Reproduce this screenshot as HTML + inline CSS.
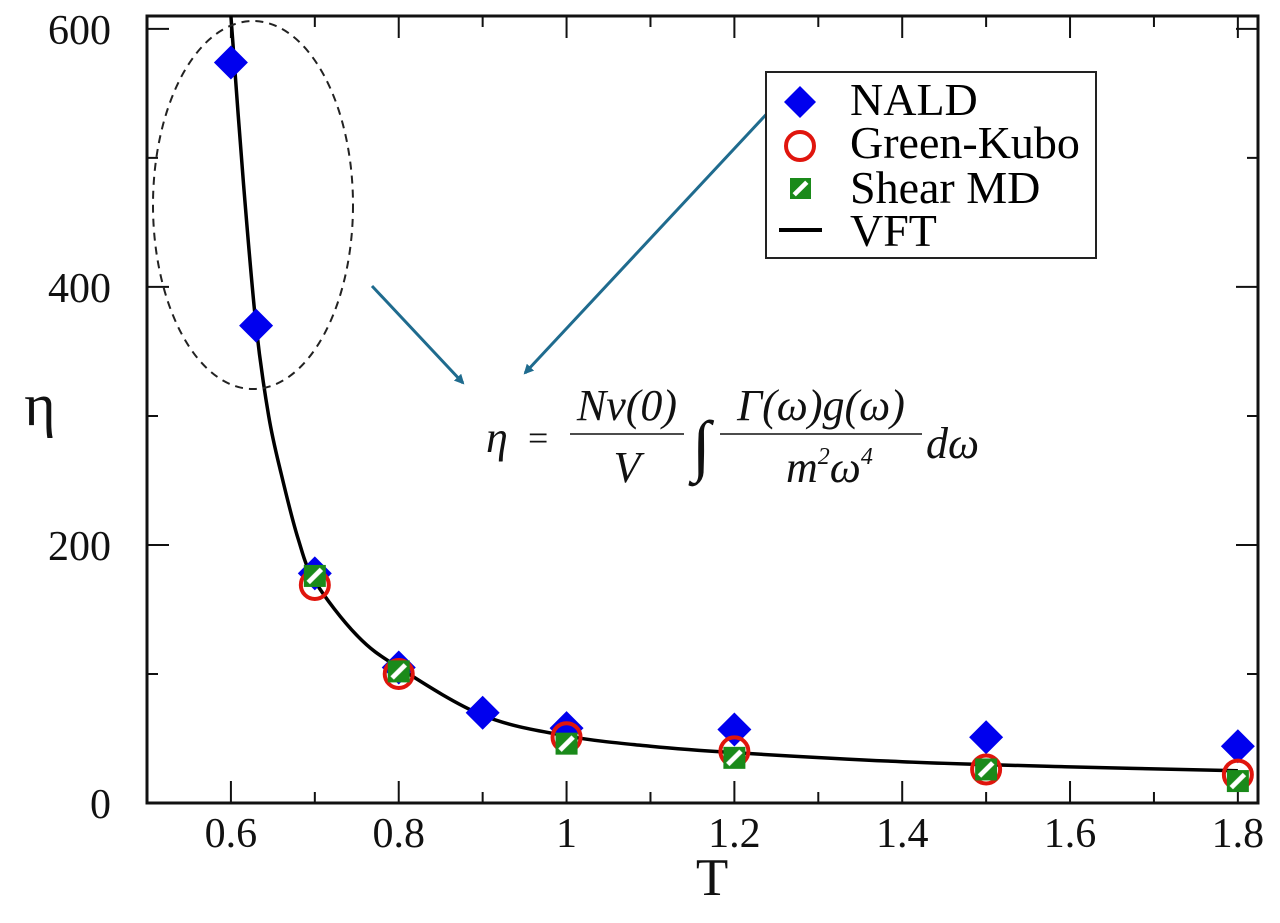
<!DOCTYPE html>
<html><head><meta charset="utf-8"><style>
html,body{margin:0;padding:0;background:#fff;}
svg{display:block;font-family:"Liberation Serif",serif;}
</style></head><body>
<svg id="chart" width="1280" height="923" viewBox="0 0 1280 923">
<defs>
<marker id="ah" markerWidth="10" markerHeight="10" refX="8" refY="5" orient="auto" markerUnits="userSpaceOnUse"><path d="M0,0 L10,5 L0,10 z" fill="#1f6b8e"/></marker>
<pattern id="hatch" width="1" height="1" patternUnits="objectBoundingBox" patternContentUnits="objectBoundingBox"><rect width="1" height="1" fill="#1a8a1a"/><path d="M0.2,0.8 L0.8,0.2" stroke="#fff" stroke-width="0.22"/></pattern>
<clipPath id="pc"><rect x="147" y="16" width="1111" height="787"/></clipPath>
</defs>
<g id="axes"></g>
<g id="marks"></g>
<ellipse cx="253" cy="205" rx="100" ry="184" fill="none" stroke="#222" stroke-width="2" stroke-dasharray="8,6"/>
<line x1="372" y1="286" x2="463" y2="383" stroke="#1f6b8e" stroke-width="3" marker-end="url(#ah)"/>
<line x1="775" y1="105" x2="525" y2="373" stroke="#1f6b8e" stroke-width="3" marker-end="url(#ah)"/>
<g font-style="italic" font-size="44" fill="#111">
<text x="486" y="452">η</text>
<text x="528" y="450" font-style="normal" font-size="36">=</text>
<text x="627" y="420" text-anchor="middle">Nν(0)</text>
<line x1="570" y1="434" x2="684" y2="434" stroke="#111" stroke-width="1.5"/>
<text x="627" y="482" text-anchor="middle">V</text>
<text x="692" y="468" font-size="68" font-style="normal">∫</text>
<text x="821" y="420" text-anchor="middle">Γ(ω)g(ω)</text>
<line x1="720" y1="434" x2="922" y2="434" stroke="#111" stroke-width="1.5"/>
<text x="786" y="482">m<tspan font-size="24" dy="-18">2</tspan><tspan dy="18">ω</tspan><tspan font-size="24" dy="-18">4</tspan></text>
<text x="926" y="458">dω</text>
</g>
<g>
<rect x="766" y="72" width="330" height="186" fill="#fff" stroke="#222" stroke-width="2"/>
<g><path d="M800,86 L816,102 L800,118 L784,102 z" fill="#0000ee"/><text x="850" y="115" font-size="46">NALD</text></g>
<g><circle cx="800" cy="146" r="14" fill="none" stroke="#e0150d" stroke-width="4"/><text x="850" y="158" font-size="46">Green-Kubo</text></g>
<g><rect x="790" y="178" width="21" height="21" fill="url(#hatch)"/><text x="850" y="203" font-size="46">Shear MD</text></g>
<g><line x1="779" y1="230" x2="822" y2="230" stroke="#000" stroke-width="4"/><text x="850" y="246" font-size="46">VFT</text></g>
</g>
</svg>
<script>
const naldT=[0.6,0.63,0.7,0.8,0.9,1.0,1.2,1.5,1.8];
const naldEta=[574,370,178,105,70,58,57,51,44];
const gkT=[0.7,0.8,1.0,1.2,1.5,1.8];
const gkEta=[169,100,51,40,26,22];
const shearT=[0.7,0.8,1.0,1.2,1.5,1.8];
const shearEta=[176,102,46,35,26,17];
const vftT=[0.6,0.615,0.63,0.645,0.66,0.68,0.7,0.75,0.8,0.9,1.0,1.1,1.2,1.4,1.6,1.8];
const vftEta=[610,480,370,300,255,205,172,130,105,68,52,44,39,32,28,25];
const xTicks=[0.6,0.8,1,1.2,1.4,1.6,1.8];
const xTickLabels=["0.6","0.8","1","1.2","1.4","1.6","1.8"];
const yTicks=[0,200,400,600];
const yTickLabels=["0","200","400","600"];

const NS="http://www.w3.org/2000/svg";
const L=147,R=1258,T=16,B=803;
const xMin=0.5,xMax=1.824,yMin=0,yMax=610;
const X=v=>L+(v-xMin)/(xMax-xMin)*(R-L);
const Y=v=>B-(v-yMin)/(yMax-yMin)*(B-T);
function mk(tag,attrs,parent){const e=document.createElementNS(NS,tag);for(const k in attrs)e.setAttribute(k,attrs[k]);parent.appendChild(e);return e;}
const axes=document.getElementById('axes'),marks=document.getElementById('marks');

let fr=mk('rect',{x:L,y:T,width:R-L,height:B-T,fill:'none',stroke:'#111','stroke-width':3},axes);


for(let i=0;i<xTicks.length;i++){
 const x=X(xTicks[i]);
 let t=mk('path',{d:`M${x},${B}v-22M${x},${T}v22`,stroke:'#111','stroke-width':2},axes);
 
 
 let m=X(xTicks[i]-0.1);
 if(m>L){let mt=mk('path',{d:`M${m},${B}v-11M${m},${T}v11`,stroke:'#111','stroke-width':2},axes);
 
 }
 let lb=mk('text',{x:x,y:847,'text-anchor':'middle','font-size':42,fill:'#111'},axes);
 lb.textContent=xTickLabels[i];
 
 
}
for(let i=0;i<yTicks.length;i++){
 const y=Y(yTicks[i]);
 let t=mk('path',{d:`M${L},${y}h22M${R},${y}h-22`,stroke:'#111','stroke-width':2},axes);
 
 
 if(yTicks[i]+100<yMax){let m=Y(yTicks[i]+100);
 let mt=mk('path',{d:`M${L},${m}h11M${R},${m}h-11`,stroke:'#111','stroke-width':2},axes);
 
 }
 let lb=mk('text',{x:111,y:y+15,'text-anchor':'end','font-size':42,fill:'#111'},axes);
 lb.textContent=yTickLabels[i];
 
 
}
let xt=mk('text',{x:712,y:895,'text-anchor':'middle','font-size':53,fill:'#111'},axes);
xt.textContent='T';


let yt=mk('text',{x:40,y:425,'text-anchor':'middle','font-size':60,fill:'#111'},axes);
yt.textContent='η';



const pts=vftT.map((t,i)=>[X(t),Y(vftEta[i])]);
let d=`M${pts[0][0]},${pts[0][1]}`;
for(let i=0;i<pts.length-1;i++){
 const p0=pts[Math.max(0,i-1)],p1=pts[i],p2=pts[i+1],p3=pts[Math.min(pts.length-1,i+2)];
 d+=`C${p1[0]+(p2[0]-p0[0])/6},${p1[1]+(p2[1]-p0[1])/6} ${p2[0]-(p3[0]-p1[0])/6},${p2[1]-(p3[1]-p1[1])/6} ${p2[0]},${p2[1]}`;
}
let curve=mk('path',{d:d,fill:'none',stroke:'#000','stroke-width':3.5,'clip-path':'url(#pc)'},marks);



naldT.forEach((t,i)=>{const x=X(t),y=Y(naldEta[i]);
 let p=mk('path',{d:`M${x},${y-17}L${x+17},${y}L${x},${y+17}L${x-17},${y}z`,fill:'#0000ee'},marks);
 
 });
gkT.forEach((t,i)=>{
 let c=mk('circle',{cx:X(t),cy:Y(gkEta[i]),r:14,fill:'none',stroke:'#e0150d','stroke-width':4},marks);
 
 });
shearT.forEach((t,i)=>{
 let r=mk('rect',{x:X(t)-11,y:Y(shearEta[i])-11,width:22,height:22,fill:'url(#hatch)'},marks);
 
 });
</script>
</body></html>
